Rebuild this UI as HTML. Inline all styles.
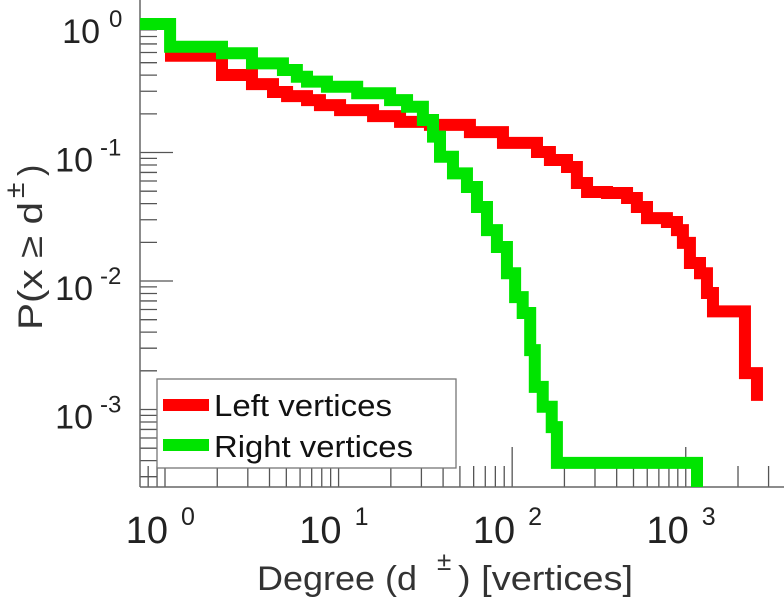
<!DOCTYPE html>
<html><head><meta charset="utf-8"><style>
body{margin:0;background:#fff;}
svg{display:block;font-family:"Liberation Sans",sans-serif;}
</style></head><body>
<svg id="chart" width="784" height="600" viewBox="0 0 784 600"></svg>
<script>
const redDeg=[1,2.13,3.17,4.19,5.05,6.58,7.81,10.2,15.8,22.6,33.6,57.1,88.5,139,165,207,236,270,352,459,523,598,779,890,963,1057,1208,1325,1435,2193,2572];
const redP=[0.567,0.401,0.341,0.296,0.275,0.256,0.234,0.214,0.192,0.173,0.164,0.144,0.119,0.101,0.0875,0.0771,0.0579,0.0493,0.0484,0.0443,0.0377,0.0309,0.0288,0.0249,0.0198,0.0138,0.0115,0.00807,0.0058,0.00192,0.0013];
const greenDeg=[0.718,1.07,2.13,3.17,4.78,5.75,6.58,8.57,12.8,19.8,24.8,30.6,35.0,38.4,45.6,54.9,62.7,71.6,81.7,93.3,104,115,127,135,150,169,181,1161];
const greenP=[1.0,0.666,0.592,0.494,0.439,0.389,0.356,0.325,0.289,0.256,0.227,0.179,0.133,0.0927,0.0689,0.0539,0.0377,0.0249,0.0184,0.0115,0.0075,0.00564,0.0029,0.0015,0.00105,0.00073,0.000384,0.00024];
const xTickExp=[0,1,2,3];
const yTickExp=[0,-1,-2,-3];

const NS="http://www.w3.org/2000/svg";
const svg=document.getElementById('chart');
const X0=140,X1=784,Y0=487,Y1=0;
const xLogMin=-0.144,xLogMax=3.566;
const yLogMin=-3.603,yLogMax=0.187;
function sx(d){return X0+(Math.log10(d)-xLogMin)/(xLogMax-xLogMin)*(X1-X0);}
function sy(p){return Y0-(Math.log10(p)-yLogMin)/(yLogMax-yLogMin)*(Y0-Y1);}
function mk(tag,attrs){const e=document.createElementNS(NS,tag);for(const k in attrs)e.setAttribute(k,attrs[k]);svg.appendChild(e);return e;}

const defs=mk('defs',{});
const cp=document.createElementNS(NS,'clipPath');cp.setAttribute('id','clip');
const cr=document.createElementNS(NS,'rect');cr.setAttribute('x',X0);cr.setAttribute('y',0);cr.setAttribute('width',X1-X0);cr.setAttribute('height',Y0);
cp.appendChild(cr);defs.appendChild(cp);

for(let e=-1;e<=3;e++){for(let m=1;m<=9;m++){const v=m*Math.pow(10,e);const lv=Math.log10(v);if(lv<xLogMin||lv>xLogMax)continue;
 const x=sx(v);const major=m===1;
 const t=mk('line',{x1:x,x2:x,y1:Y0,y2:Y0-(major?40:21),stroke:'#555','stroke-width':1.3});
 
 }}
for(let e=-4;e<=0;e++){for(let m=1;m<=9;m++){const v=m*Math.pow(10,e);const lv=Math.log10(v);if(lv<yLogMin||lv>yLogMax)continue;
 const y=sy(v);const major=m===1;
 const t=mk('line',{x1:X0,x2:X0+(major?33:17),y1:y,y2:y,stroke:'#555','stroke-width':1.3});
 
 }}

const ax=mk('line',{x1:X0,x2:X1,y1:Y0,y2:Y0,stroke:'#666','stroke-width':1.5});

const ay=mk('line',{x1:X0,x2:X0,y1:0,y2:Y0,stroke:'#666','stroke-width':1.5});


xTickExp.forEach(e=>{const x=sx(Math.pow(10,e));
 const t=mk('text',{x:x+3,y:543,'font-size':38,'text-anchor':'end',fill:'#222'});
 
 t.textContent='10';
 const s=mk('text',{x:x+16,y:525,'font-size':25,fill:'#222'});
 
 s.textContent=String(e);});
yTickExp.forEach(e=>{const y=sy(Math.pow(10,e));
 const t=mk('text',{x:e===0?100:93,y:y+19,'font-size':34,'text-anchor':'end',fill:'#222'});
 
 t.textContent='10';
 const s=mk('text',{x:e===0?109:100,y:y+3,'font-size':24,'text-anchor':'start',fill:'#222'});
 
 s.textContent=String(e);});

function stepPath(ds,ps){let d='';for(let i=0;i<ds.length;i++){const x=sx(ds[i]),y=sy(ps[i]);
 if(i===0)d+='M'+x+' '+y;else d+=' L'+x+' '+sy(ps[i-1])+' L'+x+' '+y;}return d;}
const r=mk('path',{d:stepPath(redDeg,redP)+' l6 0',stroke:'#ff0000','stroke-width':12,fill:'none','clip-path':'url(#clip)'});

const g=mk('path',{d:stepPath(greenDeg,greenP),stroke:'#00e400','stroke-width':12,fill:'none','clip-path':'url(#clip)'});


const lb=mk('rect',{x:157,y:379,width:299,height:89,fill:'#fff',stroke:'#777','stroke-width':1.3});

const l1=mk('line',{x1:163,x2:209,y1:405,y2:405,stroke:'#ff0000','stroke-width':12});

const t1=mk('text',{x:214,y:416,'font-size':31,fill:'#111',textLength:178,lengthAdjust:'spacingAndGlyphs'});
t1.textContent='Left vertices';
const l2=mk('line',{x1:163,x2:209,y1:445,y2:445,stroke:'#00e400','stroke-width':12});

const t2=mk('text',{x:214,y:457,'font-size':31,fill:'#111',textLength:199,lengthAdjust:'spacingAndGlyphs'});
t2.textContent='Right vertices';

const xt=mk('text',{x:257,y:590,'font-size':34,fill:'#333',textLength:160,lengthAdjust:'spacingAndGlyphs'});

xt.textContent='Degree (d';
const xt2=mk('text',{x:437,y:570,'font-size':26,fill:'#333'});

xt2.textContent='±';
const xt3=mk('text',{x:458,y:590,'font-size':34,fill:'#333',textLength:175,lengthAdjust:'spacingAndGlyphs'});

xt3.textContent=') [vertices]';

const yt=mk('text',{x:0,y:0,'font-size':34,fill:'#333',textLength:128,lengthAdjust:'spacingAndGlyphs',transform:'translate(42,330) rotate(-90)'});

yt.textContent='P(x ≥ d';
const yt2=mk('text',{x:0,y:0,'font-size':28,fill:'#333',transform:'translate(24,198) rotate(-90)'});

yt2.textContent='±';
const yt3=mk('text',{x:0,y:0,'font-size':34,fill:'#333',transform:'translate(42,176) rotate(-90)'});

yt3.textContent=')';
</script>
</body></html>
